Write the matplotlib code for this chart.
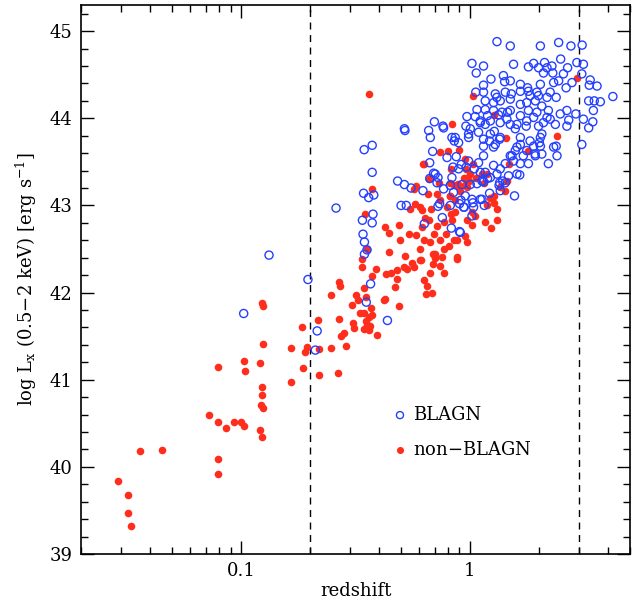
#!/usr/bin/env python
# -*- coding: utf-8 -*-

import matplotlib
matplotlib.use('Agg')
import matplotlib.pyplot as plt
from matplotlib.ticker import LogLocator, FixedLocator, FixedFormatter, MultipleLocator, NullFormatter

# broad-line AGN: redshift and log Lx (0.5-2 keV)
blagn_z = [
    0.1027, 0.1325, 0.196, 0.215, 0.211, 0.368, 0.3525, 0.436, 0.26, 0.345,
    0.374, 0.374, 0.483, 0.517, 0.553, 0.623, 0.343, 0.361, 0.38, 0.50,
    0.527, 0.377, 0.339, 0.374, 0.341, 0.346, 0.355, 0.346, 0.667, 0.705,
    0.725, 0.82, 0.923, 1.003, 1.073, 1.146, 0.737, 0.725, 0.82, 0.90,
    0.944, 1.03, 1.128, 1.155, 1.02, 0.632, 0.757, 0.829, 0.907, 1.037,
    0.938, 0.517, 0.52, 0.699, 0.762, 0.66, 0.671, 0.834, 0.854, 0.892,
    0.687, 0.794, 0.843, 0.916, 0.667, 0.97, 1.054, 0.96, 1.003, 0.986,
    1.109, 1.166, 1.193, 1.09, 1.146, 1.218, 1.29, 1.347, 1.277, 1.356,
    1.333, 1.46, 1.50, 1.577, 1.66, 1.76, 1.897, 1.993, 2.17, 2.36,
    2.06, 2.01, 1.897, 1.77, 1.927, 2.06, 2.32, 2.40, 2.20, 1.66,
    1.577, 1.50, 1.55, 1.66, 1.80, 1.426, 1.356, 1.604, 1.474, 1.426,
    1.356, 1.565, 1.227, 1.312, 1.268, 1.146, 1.09, 1.044, 1.109, 1.166,
    1.193, 1.128, 1.347, 0.986, 0.963, 0.834, 0.848, 0.954, 1.02, 1.109,
    1.218, 0.913, 0.767, 0.718, 0.871, 0.694, 0.892, 1.34, 1.39, 1.65,
    1.312, 1.50, 2.03, 2.44, 2.76, 3.09, 1.02, 1.146, 1.065, 1.55,
    1.235, 1.40, 1.50, 1.417, 1.146, 1.80, 1.897, 1.993, 2.117, 2.17,
    2.28, 2.30, 2.094, 2.49, 2.67, 2.93, 3.13, 2.56, 2.44, 2.32,
    2.63, 2.79, 3.08, 3.35, 3.59, 3.32, 3.30, 3.49, 3.71, 4.21,
    3.46, 3.13, 3.44, 3.30, 2.90, 2.70, 2.65, 3.08, 2.38, 1.66,
    1.785, 1.96, 2.03, 2.24, 1.06, 1.146, 1.29, 1.31, 1.426, 1.515,
    1.66, 1.80, 1.83, 1.99, 1.166, 1.268, 1.356, 1.50, 1.66, 1.77,
    1.93, 2.17, 2.38, 2.06, 2.20, 2.48, 2.65, 1.073, 1.166, 1.268,
    1.379, 1.50, 1.80, 1.96, 1.109, 1.227, 1.45, 1.604, 1.77, 2.094,
    2.24, 0.767, 0.862, 0.986, 1.227, 1.356, 1.66, 1.83, 2.03, 1.146,
    1.268, 1.604, 2.03, 1.526, 1.71, 1.93, 0.90,
]
blagn_lx = [
    41.76, 42.43, 42.15, 41.56, 41.34, 42.10, 41.89, 41.68, 42.97, 43.64,
    43.69, 43.38, 43.28, 43.24, 43.20, 43.17, 43.14, 43.09, 43.12, 43.00,
    43.00, 42.90, 42.83, 42.80, 42.67, 42.58, 42.49, 42.44, 43.31, 43.36,
    43.32, 43.23, 43.24, 43.24, 43.25, 43.27, 43.02, 42.99, 43.00, 43.02,
    42.98, 43.03, 43.07, 43.00, 42.88, 42.79, 42.86, 42.74, 42.69, 42.98,
    42.98, 43.88, 43.86, 43.96, 43.91, 43.86, 43.78, 43.78, 43.74, 43.72,
    43.62, 43.55, 43.44, 43.47, 43.49, 44.02, 44.02, 43.91, 43.88, 43.82,
    43.95, 43.93, 44.03, 43.84, 43.76, 43.74, 43.70, 43.76, 43.85, 43.95,
    44.04, 44.07, 43.93, 43.88, 44.03, 43.91, 44.01, 43.91, 44.01, 43.93,
    43.82, 43.72, 43.68, 43.63, 43.59, 43.59, 43.67, 43.57, 43.48, 43.70,
    43.63, 43.57, 43.51, 43.48, 43.48, 43.48, 43.42, 43.36, 43.34, 43.26,
    43.17, 43.11, 43.32, 43.36, 43.46, 43.57, 43.49, 43.42, 43.38, 43.38,
    43.31, 43.28, 43.26, 43.51, 43.44, 43.32, 43.15, 43.11, 43.07, 43.07,
    43.14, 43.06, 43.19, 43.26, 43.56, 43.37, 43.42, 43.23, 43.28, 43.35,
    44.88, 44.83, 44.83, 44.87, 44.83, 44.84, 44.63, 44.60, 44.52, 44.62,
    44.45, 44.49, 44.43, 44.42, 44.38, 44.59, 44.63, 44.58, 44.64, 44.58,
    44.60, 44.52, 44.52, 44.68, 44.58, 44.64, 44.62, 44.51, 44.43, 44.41,
    44.35, 44.41, 44.51, 44.44, 44.37, 44.38, 44.20, 44.20, 44.19, 44.25,
    44.09, 43.99, 43.96, 43.89, 44.05, 43.98, 43.91, 43.70, 43.68, 44.39,
    44.35, 44.30, 44.39, 44.30, 44.30, 44.30, 44.28, 44.24, 44.30, 44.28,
    44.31, 44.31, 44.26, 44.26, 44.20, 44.18, 44.20, 44.22, 44.16, 44.18,
    44.20, 44.24, 44.24, 44.14, 44.09, 44.05, 44.09, 44.10, 44.10, 44.09,
    44.07, 44.09, 44.09, 44.07, 43.97, 43.97, 43.99, 43.93, 43.97, 43.95,
    43.99, 43.89, 43.78, 43.78, 43.82, 43.78, 43.78, 43.74, 43.78, 43.68,
    43.67, 43.67, 43.68, 43.57, 43.57, 43.57, 42.70,
]

# non broad-line AGN
nonblagn_z = [
    0.0289, 0.0321, 0.0320, 0.0332, 0.0361, 0.045, 0.0722, 0.0791, 0.0791, 0.0791,
    0.0791, 0.086, 0.0929, 0.0999, 0.1027, 0.1027, 0.104, 0.121, 0.1243, 0.1233,
    0.1233, 0.122, 0.125, 0.1215, 0.123, 0.1235, 0.125, 0.166, 0.166, 0.186,
    0.185, 0.190, 0.195, 0.218, 0.216, 0.445, 0.338, 0.339, 0.387, 0.373,
    0.431, 0.45, 0.48, 0.478, 0.517, 0.531, 0.558, 0.567, 0.609, 0.687,
    0.70, 0.671, 0.63, 0.649, 0.645, 0.68, 0.737, 0.269, 0.271, 0.247,
    0.317, 0.323, 0.304, 0.345, 0.353, 0.371, 0.343, 0.361, 0.372, 0.353,
    0.356, 0.343, 0.362, 0.422, 0.488, 0.393, 0.308, 0.313, 0.281, 0.274,
    0.267, 0.287, 0.248, 0.22, 0.265, 0.367, 0.332, 0.374, 0.349, 0.424,
    0.441, 0.488, 0.496, 0.581, 0.603, 0.545, 0.653, 0.675, 0.638, 0.659,
    0.617, 0.627, 0.671, 0.694, 0.718, 0.742, 0.767, 0.689, 0.788, 0.806,
    0.848, 0.877, 0.834, 0.862, 0.794, 0.742, 0.82, 0.907, 0.954, 0.877,
    0.97, 1.02, 0.954, 0.97, 1.054, 1.166, 1.186, 0.97, 0.671, 0.577,
    0.607, 0.522, 0.355, 0.834, 1.277, 1.44, 1.80, 2.40, 1.03, 2.93,
    0.364, 0.737, 0.798, 0.627, 0.66, 0.73, 0.82, 0.848, 0.892, 0.97,
    0.938, 1.003, 1.128, 1.146, 1.227, 1.27, 1.356, 1.45, 1.426, 0.862,
    0.567, 0.623, 0.829, 0.90, 0.947, 0.963, 1.03, 1.186, 1.474, 0.583,
    0.718, 0.814, 0.883, 0.986, 1.06, 0.617, 0.767, 0.826, 1.02, 1.268,
    1.31, 1.31, 1.24, 0.54, 0.607, 0.877, 0.705, 0.755, 0.877, 0.767,
    0.472, 0.427,
]
nonblagn_lx = [
    39.84, 39.68, 39.47, 39.32, 40.18, 40.19, 40.60, 40.52, 41.15, 40.09,
    39.92, 40.45, 40.51, 40.51, 40.47, 41.22, 41.10, 41.19, 41.41, 40.92,
    40.82, 40.71, 40.68, 40.42, 40.34, 41.875, 41.85, 40.97, 41.36, 41.14,
    41.61, 41.32, 41.38, 41.05, 41.68, 42.46, 42.29, 42.39, 42.27, 42.19,
    42.21, 42.23, 42.26, 42.16, 42.29, 42.27, 42.34, 42.29, 42.37, 42.33,
    42.40, 42.22, 42.14, 42.07, 41.98, 42.00, 42.31, 42.12, 42.07, 41.97,
    41.97, 41.92, 41.86, 42.05, 41.95, 41.82, 41.76, 41.72, 41.74, 41.67,
    41.63, 41.58, 41.57, 41.92, 41.85, 41.51, 41.65, 41.59, 41.54, 41.50,
    41.70, 41.39, 41.36, 41.35, 41.08, 41.62, 41.76, 43.19, 42.90, 42.75,
    42.68, 42.77, 42.60, 42.66, 42.98, 42.96, 43.13, 42.96, 42.86, 42.83,
    42.75, 42.60, 42.58, 42.67, 42.76, 42.60, 42.50, 42.44, 42.67, 42.54,
    42.60, 42.39, 42.83, 42.92, 42.98, 43.06, 43.11, 43.17, 43.23, 43.23,
    42.83, 42.77, 42.65, 42.58, 42.88, 42.81, 43.00, 43.32, 43.32, 43.02,
    42.37, 42.42, 42.50, 43.93, 44.04, 43.77, 43.62, 43.80, 44.26, 44.46,
    44.28, 43.61, 43.62, 43.48, 43.30, 43.26, 43.26, 43.23, 43.21, 43.21,
    43.32, 43.36, 43.36, 43.26, 43.09, 43.11, 43.21, 43.28, 43.17, 43.06,
    43.19, 43.47, 43.42, 43.64, 43.53, 43.42, 43.48, 43.36, 43.48, 43.22,
    43.13, 43.11, 43.25, 43.28, 43.31, 42.95, 42.81, 42.90, 42.93, 43.03,
    42.96, 42.83, 42.74, 42.67, 42.50, 42.60, 42.44, 42.41, 42.41, 42.23,
    42.06, 41.93,
]

z_limits = [0.2, 3.0]
x_tick_values = [0.1, 1]
x_tick_labels = ['0.1', '1']

BLUE = '#2440ff'
RED = '#ff2e1c'

plt.rcParams['font.family'] = ['DejaVu Serif']
plt.rcParams['mathtext.fontset'] = 'dejavuserif'

fig = plt.figure(figsize=(6.39, 6.05), dpi=100)
ax = fig.add_axes([0.1268, 0.0843, 0.8591, 0.9074])

ax.scatter(nonblagn_z, nonblagn_lx, s=30, color=RED, linewidths=0, zorder=3)
ax.scatter(blagn_z, blagn_lx, s=34, facecolors='none', edgecolors=BLUE,
           linewidths=1.0, zorder=4)

for zl in z_limits:
    ax.axvline(zl, color='black', lw=1.0, ls=(0, (5, 4)), zorder=2)

ax.set_xscale('log')
ax.set_xlim(0.02, 5)
ax.set_ylim(39, 45.3)

ax.xaxis.set_major_locator(FixedLocator(x_tick_values))
ax.xaxis.set_major_formatter(FixedFormatter(x_tick_labels))
ax.xaxis.set_minor_locator(LogLocator(base=10, subs=range(2, 10)))
ax.xaxis.set_minor_formatter(NullFormatter())
ax.yaxis.set_major_locator(MultipleLocator(1))
ax.yaxis.set_minor_locator(MultipleLocator(0.2))

ax.tick_params(which='both', direction='in', top=True, right=True,
               width=1.0, labelsize=13, colors='black')
ax.tick_params(which='major', length=9.5, pad=6)
ax.tick_params(which='minor', length=4.7)
for sp in ax.spines.values():
    sp.set_linewidth(1.2)

ax.set_xlabel('redshift', fontsize=13, labelpad=1)
ax.set_ylabel(r'log L$_{\rm x}$ (0.5$-$2 keV) [erg s$^{-1}$]', fontsize=13,
              labelpad=8)

# legend drawn by hand, like the original
ax.scatter([0.581], [0.253], s=26, facecolors='none', edgecolors=BLUE,
           linewidths=1.0, transform=ax.transAxes, clip_on=False)
ax.scatter([0.581], [0.189], s=26, color=RED, linewidths=0,
           transform=ax.transAxes, clip_on=False)
ax.text(0.605, 0.253, 'BLAGN', fontsize=13, va='center', ha='left',
        transform=ax.transAxes)
ax.text(0.605, 0.189, 'non$-$BLAGN', fontsize=13, va='center', ha='left',
        transform=ax.transAxes)

fig.savefig('out.png', dpi=100)
